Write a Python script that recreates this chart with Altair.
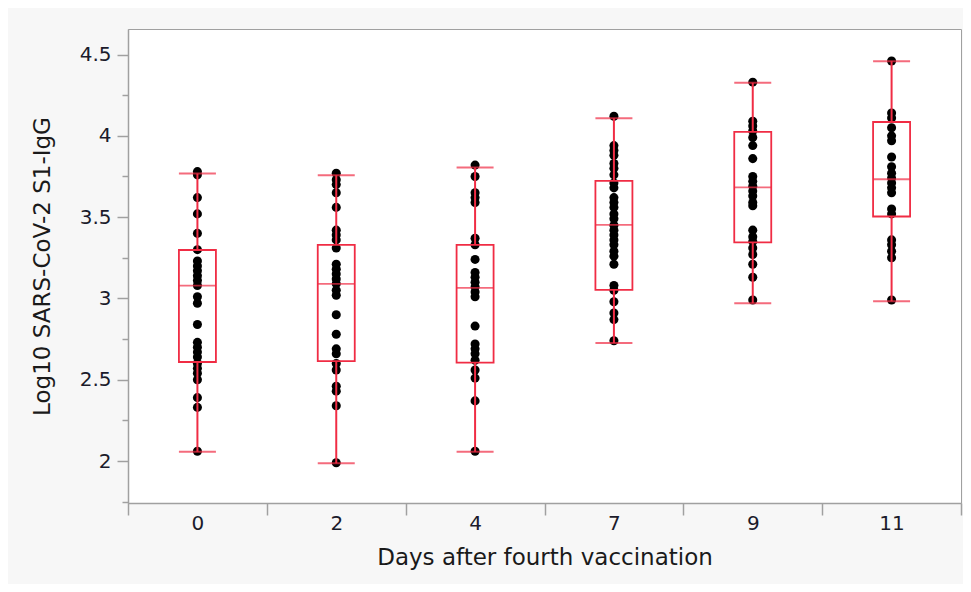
import altair as alt
import pandas as pd

days = ["0", "2", "4", "7", "9", "11"]

vals_0 = [3.78, 3.76, 3.62, 3.52, 3.40, 3.30, 3.23, 3.20, 3.17, 3.14, 3.11, 3.08, 3.01,
          2.97, 2.84, 2.73, 2.70, 2.67, 2.64, 2.60, 2.57, 2.54, 2.50, 2.39, 2.33, 2.06]
vals_2 = [3.77, 3.73, 3.70, 3.65, 3.56, 3.42, 3.39, 3.36, 3.31, 3.21, 3.18, 3.15, 3.12,
          3.09, 3.05, 3.02, 2.90, 2.78, 2.69, 2.66, 2.60, 2.56, 2.46, 2.43, 2.34, 1.99]
vals_4 = [3.82, 3.75, 3.65, 3.62, 3.59, 3.37, 3.33, 3.24, 3.16, 3.13, 3.10, 3.07, 3.04,
          3.01, 2.83, 2.72, 2.69, 2.66, 2.62, 2.56, 2.51, 2.37, 2.06]
vals_7 = [4.12, 3.94, 3.91, 3.88, 3.83, 3.80, 3.76, 3.71, 3.68, 3.62, 3.59, 3.56, 3.52,
          3.49, 3.45, 3.42, 3.39, 3.36, 3.33, 3.29, 3.26, 3.21, 3.08, 3.05, 2.98, 2.91,
          2.87, 2.74]
vals_9 = [4.33, 4.09, 4.06, 4.03, 3.99, 3.94, 3.86, 3.75, 3.72, 3.69, 3.66, 3.63, 3.59,
          3.57, 3.42, 3.38, 3.35, 3.31, 3.27, 3.21, 3.13, 2.99]
vals_11 = [4.46, 4.14, 4.11, 4.05, 4.00, 3.97, 3.87, 3.81, 3.77, 3.74, 3.71, 3.68, 3.65,
           3.55, 3.52, 3.36, 3.33, 3.29, 3.25, 2.99]

# box statistics
q1 = [2.609, 2.615, 2.605, 3.053, 3.345, 3.504]
med = [3.079, 3.090, 3.065, 3.453, 3.683, 3.733]
q3 = [3.298, 3.329, 3.329, 3.723, 4.024, 4.085]
lo = [2.057, 1.986, 2.057, 2.726, 2.971, 2.983]
hi = [3.768, 3.758, 3.805, 4.108, 4.326, 4.459]

major_ticks = [2, 2.5, 3, 3.5, 4, 4.5]
minor_ticks = [1.75, 2.25, 2.75, 3.25, 3.75, 4.25]

groups = [vals_0, vals_2, vals_4, vals_7, vals_9, vals_11]
points = pd.DataFrame(
    [{"day": d, "value": v} for d, vs in zip(days, groups) for v in vs]
)
stats = pd.DataFrame({"day": days, "q1": q1, "med": med, "q3": q3, "lo": lo, "hi": hi})

RED = "#f02c44"
GRAY = "#a0a0a0"
FONT = "DejaVu Sans"
BW = 37

yscale = alt.Scale(domain=[1.742, 4.657], nice=False, zero=False)

x_enc = alt.X(
    "day:N",
    sort=days,
    scale=alt.Scale(domain=days, paddingInner=0, paddingOuter=0),
    axis=alt.Axis(
        title="Days after fourth vaccination",
        tickBand="extent",
        tickSize=12,
        labelAngle=0,
        labelPadding=-2,
        labelFontSize=20,
        titleFontSize=23,
        titlePadding=13,
    ),
)

y_main = alt.Y(
    "value:Q",
    scale=yscale,
    axis=alt.Axis(
        title="Log10 SARS-CoV-2 S1-IgG",
        values=major_ticks,
        format="~g",
        tickSize=11,
        labelPadding=6,
        labelFontSize=20,
        titleFontSize=23,
        titlePadding=25,
        grid=False,
        orient="left",
    ),
)

pts = alt.Chart(points).mark_circle(size=82, color="black", opacity=1).encode(
    x=x_enc, y=y_main
)

base = alt.Chart(stats)

cap_lo = base.mark_tick(size=BW, thickness=2, color=RED).encode(
    x=x_enc,
    y=alt.Y(
        "lo:Q",
        scale=yscale,
        axis=alt.Axis(
            values=minor_ticks,
            labels=False,
            tickSize=6,
            domain=False,
            grid=False,
            title=None,
            orient="left",
        ),
    ),
)
cap_hi = base.mark_tick(size=BW, thickness=2, color=RED).encode(
    x=x_enc, y=alt.Y("hi:Q", scale=yscale, axis=None)
)
whisk_lo = base.mark_rule(color=RED, strokeWidth=2).encode(
    x=x_enc, y=alt.Y("lo:Q", scale=yscale, axis=None), y2="q1:Q"
)
whisk_hi = base.mark_rule(color=RED, strokeWidth=2).encode(
    x=x_enc, y=alt.Y("q3:Q", scale=yscale, axis=None), y2="hi:Q"
)
box = base.mark_bar(size=BW, fillOpacity=0, stroke=RED, strokeWidth=1.8).encode(
    x=x_enc, y=alt.Y("q1:Q", scale=yscale, axis=None), y2="q3:Q"
)
median = base.mark_tick(size=BW, thickness=1.8, color=RED).encode(
    x=x_enc, y=alt.Y("med:Q", scale=yscale, axis=None)
)

chart = (
    alt.layer(pts, cap_lo, cap_hi, whisk_lo, whisk_hi, box, median)
    .resolve_axis(y="independent")
    .properties(
        width=833,
        height=474,
        padding={"left": 120, "top": 21, "right": 2, "bottom": 81},
        autosize=alt.AutoSizeParams(type="none"),
        background="#f7f7f7",
    )
    .configure_view(fill="white", stroke=GRAY, strokeWidth=1)
    .configure_axis(
        labelFont=FONT,
        titleFont=FONT,
        titleFontWeight="normal",
        labelColor="#1b1b2b",
        titleColor="#1a1a1a",
        domainColor=GRAY,
        tickColor=GRAY,
        domainWidth=1.5,
        tickWidth=1.5,
    )
)

chart.save("out.html", embed_options={"renderer": "svg", "actions": False})
